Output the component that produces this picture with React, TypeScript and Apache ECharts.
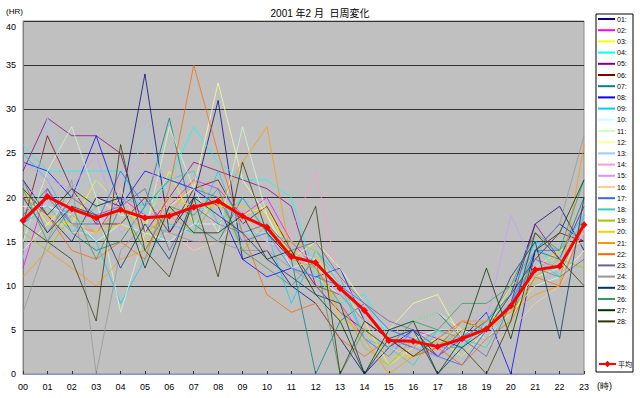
import React, { useEffect, useRef } from "react";
import * as echarts from "echarts";

const hours = ["00","01","02","03","04","05","06","07","08","09","10","11","12","13","14","15","16","17","18","19","20","21","22","23"];
const yTicks = [0, 5, 10, 15, 20, 25, 30, 35, 40];

const d01 = [22,18,15,20,19,34,16,20,31,13,14,10,8,4,0,3,5,2,4,6,9,17,19,14];
const d02 = [12,21,17,16,20,18,19,22,21,18,20,15,12,8,4,2,5,4,6,5,8,13,12,17];
const d03 = [21,17,17,22,19,17,23,17,20,18,19,13,12,10,6,1,3,4,2,5,10,12,14,15];
const d04 = [26,23,23,23,23,18,22,28,24,22,22,20,11,8,9,4,2,5,3,6,8,15,11,18];
const d05 = [23,29,27,27,25,16,20,24,23,22,21,19,10,7,5,3,4,2,5,4,8,17,13,19];
const d06 = [17,27,21,17,17,20,16,21,22,17,19,14,10,9,6,4,2,3,6,5,9,13,16,15];
const d07 = [18,21,16,14,15,19,29,17,15,20,16,13,0,6,8,5,6,7,4,5,6,14,13,20];
const d08 = [24,23,20,27,19,23,22,21,19,13,11,12,11,12,6,4,3,2,4,7,0,14,17,15];
const d09 = [25,22,17,15,8,13,17,16,23,16,16,8,14,11,4,2,5,3,3,6,9,15,14,18];
const d10 = [19,19,18,15,17,16,15,17,17,16,16,12,11,9,6,3,4,5,5,4,7,10,11,14];
const d11 = [15,23,28,20,7,16,28,21,16,28,18,12,13,10,7,5,6,7,5,4,8,11,12,16];
const d12 = [14,17,20,20,18,18,19,21,33,22,18,13,15,12,8,5,8,9,4,5,6,12,11,17];
const d13 = [13,29,21,22,18,28,20,19,18,17,15,13,12,9,7,5,4,3,2,4,8,10,13,18];
const d14 = [20,22,18,16,22,25,18,14,18,16,14,16,23,10,8,6,3,2,4,5,7,12,12,16];
const d15 = [24,22,21,25,16,18,18,16,20,17,15,13,12,9,6,3,3,2,6,6,18,12,13,15];
const d16 = [19,18,16,16,21,15,16,14,15,18,15,14,13,11,7,3,2,4,5,3,5,8,10,14];
const d17 = [17,20,17,17,23,19,22,21,20,15,16,12,11,10,8,5,4,2,1,5,8,14,14,17];
const d18 = [17,19,16,19,20,19,22,23,17,20,16,15,14,10,4,3,1,5,4,3,8,13,11,18];
const d19 = [16,14,18,16,19,16,18,16,20,14,17,14,12,8,3,1,4,3,5,6,7,11,13,12];
const d20 = [21,18,17,16,17,15,20,19,19,19,18,15,14,6,5,2,2,3,6,5,7,10,14,17];
const d21 = [11,14,12,10,13,14,18,22,19,24,28,13,12,7,4,0,2,4,6,6,7,9,10,26];
const d22 = [20,18,14,13,15,13,21,35,25,16,9,7,8,4,2,4,2,3,1,4,6,11,10,17];
const d23 = [22,16,20,18,19,21,14,19,17,16,17,14,15,11,8,6,5,3,4,2,8,12,11,13];
const d24 = [7,15,22,0,14,17,16,15,15,14,14,12,10,9,6,4,3,5,4,6,10,14,17,27];
const d25 = [20,16,19,18,12,17,13,20,18,16,13,11,9,8,0,4,5,0,3,5,11,15,4,20];
const d26 = [21,15,19,13,19,14,19,18,21,14,12,10,13,0,5,3,6,5,8,8,10,16,14,22];
const d27 = [21,18,21,19,20,12,19,16,16,18,13,14,9,6,0,5,6,0,4,12,4,14,16,22];
const d28 = [17,15,13,6,26,14,11,20,11,24,16,13,19,0,6,4,2,4,3,0,6,16,13,10];
const avg = [17.4,20.1,18.7,17.7,18.6,17.7,17.9,18.9,19.6,17.9,16.6,13.3,12.6,9.7,7.2,3.8,3.7,3.1,4.0,5.1,7.7,11.8,12.2,16.9];

const dayNames = ["01:","02:","03:","04:","05:","06:","07:","08:","09:","10:","11:","12:","13:","14:","15:","16:","17:","18:","19:","20:","21:","22:","23:","24:","25:","26:","27:","28:"];
const dayData = [d01,d02,d03,d04,d05,d06,d07,d08,d09,d10,d11,d12,d13,d14,d15,d16,d17,d18,d19,d20,d21,d22,d23,d24,d25,d26,d27,d28];
const dayColors = ["#000080","#FF00FF","#FFFF00","#00FFFF","#800080","#800000","#008080","#0000FF","#00CCFF","#CCFFFF","#CCFFCC","#FFFF99","#99CCFF","#FF99CC","#CC99FF","#FFCC99","#3366FF","#33CCCC","#99CC00","#FFCC00","#FF9900","#FF6600","#666699","#969696","#003366","#339966","#003300","#333300"];
const avgName = "平均";

const FONT = "'Liberation Sans', 'Noto Sans CJK JP', sans-serif";

export default function App() {
  const ref = useRef<HTMLDivElement>(null);
  useEffect(() => {
    if (!ref.current) return;
    const chart = echarts.init(ref.current, undefined, { renderer: "svg" });
    const series: any[] = dayData.map((d, i) => ({
      name: dayNames[i],
      type: "line",
      data: d,
      symbol: "none",
      lineStyle: { color: dayColors[i], width: 1, opacity: 0.75 },
      itemStyle: { color: dayColors[i] },
      z: 2,
    }));
    series.push({
      name: avgName,
      type: "line",
      data: avg,
      symbol: "diamond",
      symbolSize: 7,
      lineStyle: { color: "#FF0000", width: 3 },
      itemStyle: { color: "#FF0000" },
      z: 5,
    });
    chart.setOption({
      animation: false,
      backgroundColor: "#FFFFFF",
      title: {
        text: "2001 年2 月  日周変化",
        left: "center",
        top: 3,
        textStyle: { fontSize: 10, fontWeight: "normal", color: "#000", fontFamily: FONT },
      },
      grid: {
        left: 23, right: 56, top: 21, bottom: 24,
        show: true, backgroundColor: "#C0C0C0", borderColor: "#8C8C8C", borderWidth: 1,
      },
      legend: [
        {
          data: dayNames,
          orient: "vertical",
          left: 598,
          top: 15,
          icon: "rect",
          itemWidth: 17,
          itemHeight: 2,
          itemGap: 3.2,
          padding: 0,
          textStyle: { fontSize: 7, lineHeight: 8, height: 8, color: "#000", fontFamily: FONT, padding: [0, 0, 0, -3] },
        },
        {
          data: [avgName],
          orient: "vertical",
          left: 598,
          top: 360,
          itemWidth: 17,
          itemHeight: 8,
          padding: 0,
          textStyle: { fontSize: 7, lineHeight: 8, color: "#000", fontFamily: FONT, padding: [0, 0, 0, -3] },
        },
      ],
      xAxis: {
        type: "category",
        data: hours,
        boundaryGap: false,
        axisLine: { lineStyle: { color: "#8A96C8", width: 1 } },
        axisTick: { show: true, inside: true, length: 3, lineStyle: { color: "#333" } },
        axisLabel: { fontSize: 9, color: "#000", fontFamily: FONT, margin: 8, interval: 0 },
        splitLine: { show: false },
      },
      yAxis: {
        type: "value",
        min: yTicks[0],
        max: yTicks[yTicks.length - 1],
        interval: 5,
        axisLine: { show: true, lineStyle: { color: "#808080" } },
        axisTick: { show: false },
        axisLabel: {
          fontSize: 9, color: "#000", fontFamily: FONT, margin: 7, verticalAlign: "middle",
          formatter: (v: number) => (v === yTicks[yTicks.length - 1] ? "{top|" + v + "}" : String(v)),
          rich: { top: { fontSize: 9, fontFamily: FONT, color: "#000", padding: [11, 0, 0, 0] } },
        },
        splitLine: { show: true, lineStyle: { color: "#333333", width: 1 } },
      },
      graphic: [
        {
          type: "rect",
          shape: { x: 596, y: 14, width: 37, height: 358 },
          style: { fill: "#FFFFFF", stroke: "#000000", lineWidth: 1 },
          z: -1,
          silent: true,
        },
        {
          type: "text",
          left: 6,
          top: 7,
          style: { text: "(HR)", fontSize: 8, fill: "#000", font: "8px " + FONT },
        },
        {
          type: "text",
          left: 597,
          top: 381,
          style: { text: "(時)", fontSize: 9, fill: "#000", font: "9px " + FONT },
        },
      ],
      series,
    });
    return () => chart.dispose();
  }, []);
  return <div ref={ref} style={{ position: "absolute", left: 0, top: 0, width: 640, height: 398 }} />;
}
